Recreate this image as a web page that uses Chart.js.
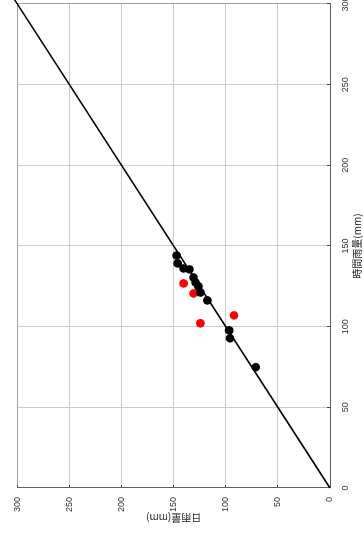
<!DOCTYPE html>
<html>
<head>
<meta charset="utf-8">
<script src="https://cdn.jsdelivr.net/npm/chart.js@4.4.0/dist/chart.umd.min.js"></script>
<style>
  html, body { margin: 0; padding: 0; background: #fff; overflow: hidden; }
  /* the chart is drawn upright and the whole frame is turned a quarter left */
  #frame { position: absolute; left: 0; top: 0; width: 536px; height: 363px; overflow: hidden;
    transform-origin: 0 0; transform: translate(0, 536px) rotate(-90deg); background: #fff; }
  #chart { position: absolute; left: 0; top: 0; }
</style>
</head>
<body>
<div id="frame"><canvas id="chart" width="560" height="363"></canvas></div>
<script>
// 時間雨量 (x) と 日雨量 (y)
let hourlyBlack = [144.1, 139.2, 136.1, 135.5, 130.5, 127.4, 125.0, 121.2, 116.3, 97.7, 92.8, 74.9];
let dailyBlack  = [147.2, 146.2, 140.5, 134.8, 131.0, 129.1, 126.3, 124.4, 117.7, 96.8, 95.9, 71.2];
let hourlyRed = [126.8, 120.6, 102.1, 107.0];
let dailyRed  = [140.5, 131.0, 124.4, 92.1];
// 1:1 の線
let lineX = [0, 305];
let lineY = [0, 305];
let axisTicks = [0, 50, 100, 150, 200, 250, 300];

function toPoints(xs, ys) {
    return xs.map(function (x, i) { return { x: x, y: ys[i] }; });
}

let gridColor = function (c) {
    return c.tick && c.tick.value === 300 ? '#a0a0a0' : '#cccccc';
};

let tickFont = { family: '"Liberation Sans", Arial, sans-serif', size: 9 };
let titleFont = { family: '"Noto Sans CJK JP", "Liberation Sans", sans-serif', size: 10 };

let ctx = document.getElementById('chart').getContext('2d');
let chart = new Chart(ctx, {
    type: 'scatter',
    data: {
        datasets: [{
            data: toPoints(lineX, lineY),
            showLine: true,
            borderColor: '#000000',
            borderWidth: 1.5,
            pointRadius: 0,
            clip: false
        }, {
            data: toPoints(hourlyBlack, dailyBlack),
            backgroundColor: '#000000',
            borderWidth: 0,
            pointRadius: 4.3
        }, {
            data: toPoints(hourlyRed, dailyRed),
            backgroundColor: '#ff0000',
            borderWidth: 0,
            pointRadius: 4.3
        }]
    },
    options: {
        responsive: false,
        animation: false,
        layout: { padding: { left: 0, right: 28, top: 14, bottom: 0 } },
        plugins: { legend: { display: false }, tooltip: { enabled: false } },
        scales: {
            x: {
                type: 'linear',
                min: 0,
                max: 300,
                afterBuildTicks: function (s) { s.ticks = axisTicks.map(function (v) { return { value: v }; }); },
                afterFit: function (s) { s.height = 33; },
                ticks: { stepSize: 50, padding: 13, color: '#333333', font: tickFont, maxRotation: 0 },
                grid: { color: gridColor, tickColor: '#444444', tickLength: -3 },
                border: { color: '#606060', width: 1 },
                title: { display: true, text: '時間雨量(mm)', color: '#222222', font: titleFont, padding: { top: 0, bottom: 0 } }
            },
            y: {
                type: 'linear',
                min: 0,
                max: 300,
                afterBuildTicks: function (s) { s.ticks = axisTicks.map(function (v) { return { value: v }; }); },
                afterFit: function (s) { s.width = 48; },
                ticks: { stepSize: 50, padding: 12, color: '#333333', font: tickFont },
                grid: { color: gridColor, tickColor: '#444444', tickLength: -3 },
                border: { color: '#606060', width: 1 },
                title: { display: true, text: '日雨量(mm)', color: '#222222', font: titleFont, padding: { top: 12, bottom: 0 } }
            }
        }
    }
});
</script>
</body>
</html>
